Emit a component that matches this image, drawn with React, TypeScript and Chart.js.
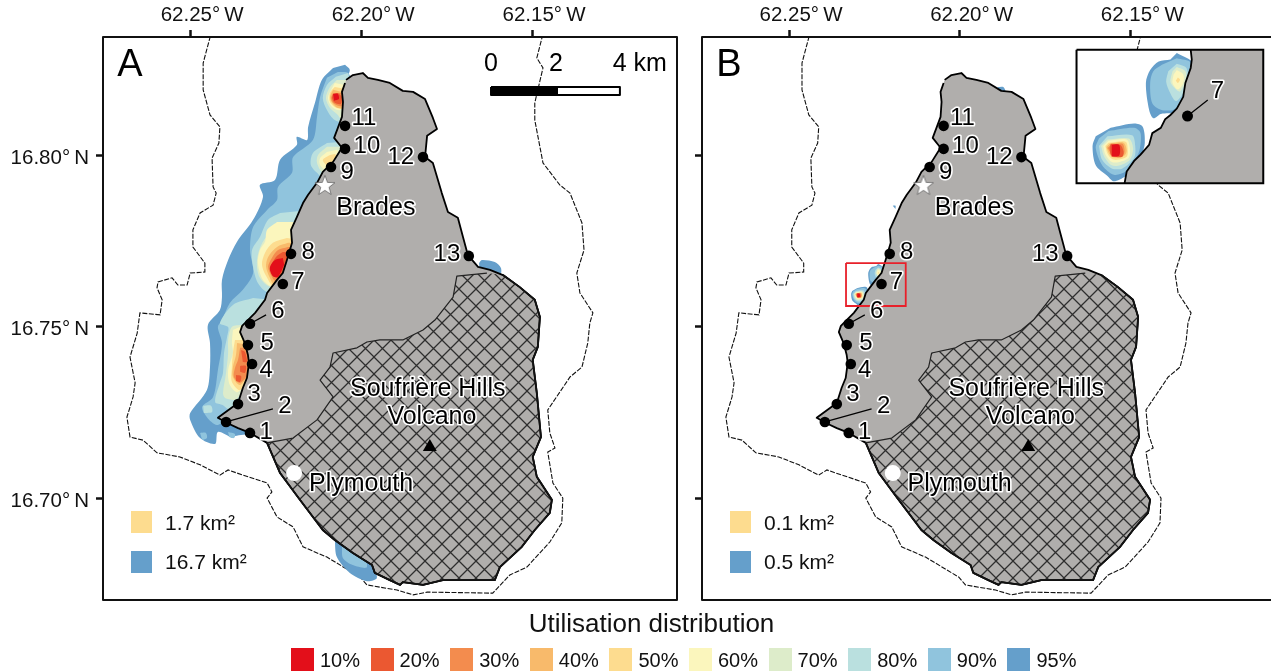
import React, { useEffect, useRef } from "react";
import { Chart, registerables } from "chart.js";
Chart.register(...registerables);

type P = number[];
const FONT = '"Liberation Sans", Arial, sans-serif';

// ---- map frame and ticks (degrees W / N) ----
const lonTicks = [62.25, 62.2, 62.15];
const latTicks = [16.8, 16.75, 16.7];
const lonRange = [62.1076, 62.2755];
const latRange = [16.6703, 16.8344];
const insetLonRange = [62.2147, 62.2684];
const insetLatRange = [16.717, 16.7697];

// ---- coastline ----
const coastNorth: P[] = [[62.2044,16.8219],[62.2024,16.8233],[62.1995,16.8239],[62.198,16.8225],[62.1951,16.8219],[62.1916,16.821],[62.1878,16.8187],[62.1848,16.8184],[62.1813,16.8163],[62.179,16.8108],[62.1778,16.8076],[62.1807,16.8056],[62.1813,16.7994],[62.179,16.7977],[62.1764,16.7889],[62.1746,16.7834],[62.1717,16.7817],[62.1702,16.7761],[62.1688,16.7709],[62.1658,16.7674],[62.1623,16.7665]];
const coastExclusion: P[] = [[62.1585,16.765],[62.1536,16.7615],[62.1492,16.7578],[62.1477,16.7528],[62.1483,16.7441],[62.1498,16.7403],[62.1486,16.7306],[62.1474,16.7178],[62.1498,16.712],[62.1486,16.7062],[62.1442,16.6995],[62.1448,16.6957],[62.1492,16.6907],[62.153,16.6858],[62.1594,16.6799],[62.1609,16.6761],[62.1682,16.6761],[62.1761,16.6761],[62.1819,16.6747],[62.1878,16.6755],[62.1886,16.6747],[62.1916,16.6761],[62.196,16.6782],[62.1968,16.6805],[62.2024,16.684],[62.2077,16.6878],[62.2112,16.6907],[62.2179,16.6995],[62.2237,16.7073],[62.2275,16.7161]];
const coastWest: P[] = [[62.2325,16.719],[62.236,16.7204],[62.2392,16.7219],[62.2419,16.7234],[62.236,16.7277],[62.2346,16.7321],[62.2334,16.735],[62.2328,16.7394],[62.2331,16.7417],[62.234,16.7452],[62.2354,16.7484],[62.2348,16.7502],[62.231,16.754],[62.2281,16.7578],[62.2275,16.7598],[62.2246,16.7636],[62.2229,16.7656],[62.2217,16.7694],[62.2202,16.7744],[62.2205,16.7782],[62.2188,16.7819],[62.217,16.786],[62.2155,16.7884],[62.2129,16.7919],[62.2112,16.7951],[62.2082,16.798],[62.2056,16.8021],[62.2079,16.805],[62.2068,16.8079],[62.2056,16.8111],[62.2053,16.8155],[62.2056,16.8184],[62.2047,16.821]];
const exclusionInner: P[] = [[62.2199,16.7175],[62.2129,16.7228],[62.2082,16.7295],[62.212,16.7344],[62.2091,16.7382],[62.2082,16.7423],[62.2012,16.7438],[62.1983,16.7455],[62.1945,16.7461],[62.1878,16.7461],[62.1819,16.749],[62.1784,16.7519],[62.1731,16.7586],[62.172,16.7647],[62.1632,16.7656]];
const boundary: P[] = [[62.2436,16.8365],[62.2462,16.8268],[62.2462,16.819],[62.2442,16.8117],[62.2413,16.8082],[62.2416,16.8035],[62.2436,16.7991],[62.2433,16.7907],[62.2424,16.7889],[62.2433,16.7854],[62.2471,16.7831],[62.2492,16.7782],[62.2492,16.7732],[62.2457,16.7685],[62.2457,16.7659],[62.25,16.7656],[62.2509,16.7621],[62.2536,16.7621],[62.2553,16.7642],[62.2594,16.763],[62.2597,16.7613],[62.2582,16.7578],[62.2588,16.7534],[62.2647,16.754],[62.2655,16.7481],[62.2676,16.7411],[62.2661,16.7336],[62.2667,16.7295],[62.2685,16.7236],[62.2676,16.7178],[62.2638,16.7169],[62.2597,16.7132],[62.253,16.712],[62.2471,16.7097],[62.2413,16.7067],[62.2389,16.7082],[62.2363,16.7073],[62.2275,16.7044],[62.2261,16.7018],[62.2275,16.7],[62.2246,16.6945],[62.2199,16.6916],[62.217,16.6858],[62.21,16.6828],[62.2003,16.677],[62.1983,16.6747],[62.1895,16.6732],[62.1848,16.6718],[62.1807,16.6726],[62.1615,16.6723],[62.1565,16.6776],[62.1515,16.6799],[62.1448,16.6872],[62.1413,16.6928],[62.141,16.7],[62.1439,16.7044],[62.1454,16.7134],[62.1433,16.7146],[62.1448,16.719],[62.1454,16.7257],[62.1389,16.7353],[62.1354,16.7382],[62.1337,16.7452],[62.1331,16.751],[62.1322,16.754],[62.136,16.7598],[62.1369,16.7656],[62.1348,16.7723],[62.1354,16.7802],[62.1389,16.7889],[62.1419,16.7913],[62.1468,16.7977],[62.1492,16.8102],[62.1492,16.8152],[62.1468,16.8254],[62.1486,16.8283],[62.1465,16.8365]];

// ---- panel A utilisation contours ----
const a95: P[][] = [
  [[62.2047,16.8263],[62.2033,16.8248],[62.2044,16.8213],[62.2018,16.819],[62.2027,16.8073],[62.2062,16.7956],[62.2179,16.7723],[62.2296,16.749],[62.231,16.7286],[62.2325,16.7193],[62.2369,16.7181],[62.2375,16.7175],[62.2419,16.7193],[62.2427,16.7158],[62.2471,16.7175],[62.25,16.7228],[62.25,16.7248],[62.2451,16.7315],[62.2442,16.7382],[62.2442,16.7452],[62.2448,16.7505],[62.2413,16.7548],[62.2407,16.7586],[62.2407,16.7636],[62.2389,16.7694],[62.2363,16.7747],[62.2316,16.7811],[62.2287,16.7878],[62.2296,16.7913],[62.2252,16.7927],[62.2237,16.7986],[62.2188,16.8029],[62.2188,16.8053],[62.2158,16.8044],[62.2155,16.8082],[62.2135,16.8152],[62.2115,16.8219],[62.2082,16.8254]],
  [[62.2077,16.6878],[62.2071,16.6828],[62.2033,16.6782],[62.1983,16.6758],[62.1954,16.6767],[62.1968,16.6805],[62.2033,16.6863],[62.2062,16.6893]],
  [[62.1655,16.7685],[62.1647,16.7694],[62.1609,16.7688],[62.1591,16.7671],[62.1594,16.765],[62.1653,16.7659]],
];
const a90: P[][] = [
  [[62.2068,16.8242],[62.2038,16.8239],[62.2018,16.819],[62.2027,16.8073],[62.2062,16.7956],[62.2179,16.7723],[62.2296,16.749],[62.231,16.7286],[62.2398,16.7228],[62.2422,16.7213],[62.2451,16.7236],[62.2465,16.7266],[62.2433,16.7295],[62.2419,16.7373],[62.2407,16.7452],[62.2419,16.7499],[62.2407,16.7519],[62.2384,16.7569],[62.2346,16.7607],[62.2316,16.7656],[62.2325,16.7723],[62.2316,16.779],[62.2275,16.784],[62.2246,16.7869],[62.2243,16.7907],[62.2202,16.7948],[62.2199,16.7994],[62.2141,16.8044],[62.2129,16.8111],[62.212,16.8169],[62.21,16.8225]],
  [[62.2471,16.719],[62.2454,16.719],[62.2451,16.7175],[62.2465,16.7169]],
  [[62.2389,16.7193],[62.2369,16.7187],[62.2372,16.7175],[62.2386,16.7178]],
  [[62.2056,16.6858],[62.2053,16.6825],[62.2024,16.6805],[62.1983,16.6799],[62.2003,16.6863],[62.2047,16.6893]],
];
const a80: P[][] = [
  [[62.2074,16.8228],[62.21,16.8204],[62.2112,16.8166],[62.21,16.8131],[62.2077,16.8102],[62.2033,16.8093],[62.2024,16.8169],[62.2038,16.8239]],
  [[62.21,16.8035],[62.2141,16.8006],[62.2147,16.7971],[62.2129,16.7948],[62.2112,16.7936],[62.2047,16.7994],[62.2062,16.8038]],
  [[62.2237,16.7831],[62.2272,16.7811],[62.2296,16.7761],[62.2319,16.7723],[62.2316,16.7674],[62.2302,16.7627],[62.2272,16.7601],[62.2179,16.7636],[62.215,16.784]],
  [[62.2316,16.7583],[62.2375,16.7563],[62.2413,16.751],[62.2389,16.7499],[62.2392,16.747],[62.2401,16.7423],[62.2404,16.7365],[62.2413,16.7336],[62.2427,16.728],[62.2404,16.7271],[62.2384,16.7257],[62.2325,16.7257],[62.2281,16.7461],[62.2267,16.7578]],
  [[62.2462,16.7269],[62.2439,16.7269],[62.2436,16.7251],[62.246,16.7248]],
];
const a70: P[][] = [
  [[62.2071,16.8219],[62.2091,16.8198],[62.2103,16.8166],[62.2091,16.8137],[62.2068,16.8117],[62.2047,16.8088],[62.2033,16.8161],[62.2033,16.8219]],
  [[62.21,16.8024],[62.2126,16.8],[62.2129,16.7977],[62.2112,16.7951],[62.2053,16.7986],[62.2062,16.8024]],
  [[62.2237,16.7782],[62.2272,16.7767],[62.2296,16.7729],[62.2305,16.7685],[62.2296,16.7642],[62.2261,16.7615],[62.2179,16.7665],[62.2179,16.7782]],
  [[62.2346,16.7505],[62.2378,16.7499],[62.2389,16.7461],[62.2389,16.7423],[62.2395,16.7365],[62.2404,16.7306],[62.2398,16.7292],[62.2363,16.7289],[62.2325,16.7373],[62.2319,16.749]],
];
const a60: P[][] = [
  [[62.2077,16.821],[62.2085,16.8195],[62.2097,16.8166],[62.2085,16.814],[62.2062,16.8131],[62.2033,16.8161],[62.2047,16.8204]],
  [[62.21,16.8009],[62.212,16.7991],[62.212,16.7971],[62.21,16.7956],[62.2053,16.7991],[62.2071,16.8015]],
  [[62.2246,16.7805],[62.2275,16.7782],[62.2281,16.7747],[62.2296,16.7723],[62.2302,16.7685],[62.2287,16.7636],[62.2252,16.7615],[62.2179,16.7665],[62.2179,16.7805]],
  [[62.2375,16.749],[62.2378,16.7452],[62.2375,16.7423],[62.2389,16.7373],[62.2384,16.733],[62.236,16.7309],[62.2325,16.7373],[62.2319,16.7476],[62.234,16.7505]],
];
const a50: P[][] = [
  [[62.2077,16.8198],[62.2091,16.8181],[62.2091,16.8155],[62.2071,16.8137],[62.2033,16.814],[62.2033,16.819]],
  [[62.2091,16.8],[62.2112,16.7986],[62.21,16.7971],[62.2062,16.7991],[62.2077,16.8003]],
  [[62.2217,16.7758],[62.2258,16.7744],[62.2281,16.7715],[62.229,16.768],[62.2275,16.7642],[62.2252,16.7615],[62.215,16.7665],[62.2179,16.7752]],
  [[62.2369,16.7461],[62.2375,16.7423],[62.2378,16.7382],[62.2378,16.7339],[62.2354,16.7315],[62.2325,16.7373],[62.2325,16.7461]],
];
const a40: P[][] = [
  [[62.2082,16.819],[62.2091,16.8169],[62.2085,16.8152],[62.2068,16.8137],[62.2033,16.814],[62.2033,16.8184],[62.2056,16.8184]],
  [[62.2214,16.7744],[62.2246,16.7732],[62.2272,16.7703],[62.2278,16.7674],[62.2267,16.7642],[62.2252,16.7621],[62.215,16.7665],[62.2179,16.7744]],
  [[62.2363,16.7452],[62.2366,16.7417],[62.2375,16.7382],[62.2375,16.7353],[62.2354,16.733],[62.2325,16.7373],[62.2325,16.7446]],
];
const a30: P[][] = [
  [[62.2082,16.8181],[62.2088,16.8166],[62.2082,16.8152],[62.2065,16.8143],[62.2033,16.8146],[62.2033,16.8181],[62.2062,16.8181]],
  [[62.2214,16.7732],[62.2243,16.7723],[62.2261,16.77],[62.2272,16.7674],[62.2261,16.7645],[62.2246,16.763],[62.215,16.768],[62.2179,16.7732]],
  [[62.2354,16.7438],[62.236,16.7403],[62.2369,16.7379],[62.2372,16.7353],[62.2354,16.7336],[62.2325,16.7373],[62.2325,16.7438]],
];
const a20: P[][] = [
  [[62.2082,16.8178],[62.2085,16.8166],[62.2077,16.8152],[62.2059,16.8149],[62.2056,16.8169],[62.2068,16.8181]],
  [[62.2229,16.7717],[62.2249,16.7703],[62.2264,16.7674],[62.2258,16.765],[62.2243,16.7642],[62.2179,16.7688],[62.2193,16.7717]],
  [[62.2351,16.7432],[62.234,16.7426],[62.2334,16.7397],[62.2346,16.7397]],
  [[62.2354,16.7385],[62.2337,16.7385],[62.234,16.7365],[62.2354,16.7368]],
  [[62.2366,16.7359],[62.2351,16.7356],[62.2354,16.7339],[62.2366,16.7341]],
];
const a10: P[][] = [
  [[62.2082,16.8178],[62.2068,16.8178],[62.2065,16.8163],[62.2079,16.8158]],
  [[62.2229,16.77],[62.2252,16.7694],[62.2267,16.7671],[62.2258,16.7647],[62.2243,16.7645],[62.2225,16.768]],
];

// ---- panel B utilisation contours ----
const b95: P[][] = [
  [[62.2239,16.7682],[62.2225,16.7674],[62.2223,16.7663],[62.2233,16.7641],[62.224,16.7627],[62.2254,16.7625],[62.2261,16.7621],[62.2265,16.7629],[62.2268,16.7654],[62.2264,16.7666],[62.2256,16.7674],[62.2245,16.7676]],
  [[62.2301,16.7612],[62.2279,16.7616],[62.2271,16.7613],[62.2269,16.7598],[62.2272,16.7587],[62.2279,16.7577],[62.2287,16.7567],[62.2298,16.7562],[62.2304,16.7567],[62.2315,16.7577],[62.2318,16.7595],[62.2315,16.7604]],
  [[62.1889,16.8198],[62.1872,16.8198],[62.1866,16.8184],[62.1886,16.8184]],
  [[62.2196,16.7852],[62.2188,16.7852],[62.2188,16.7843]],
];
const b90: P[][] = [
  [[62.2239,16.7677],[62.2226,16.7673],[62.2226,16.7657],[62.2234,16.7638],[62.2242,16.7629],[62.2254,16.7629],[62.2262,16.7635],[62.2264,16.7654],[62.2261,16.7665],[62.2253,16.7671]],
  [[62.2303,16.7609],[62.2279,16.7612],[62.2273,16.7607],[62.2274,16.7591],[62.2279,16.7581],[62.2287,16.7571],[62.2298,16.7568],[62.2309,16.7577],[62.2315,16.7593],[62.2312,16.7602]],
];
const b80: P[][] = [
  [[62.2239,16.7672],[62.223,16.7668],[62.2229,16.7654],[62.2234,16.7643],[62.224,16.7637],[62.2245,16.7644],[62.2249,16.7655],[62.2247,16.7665]],
  [[62.2304,16.7604],[62.2281,16.7605],[62.2278,16.7595],[62.2279,16.7584],[62.229,16.7574],[62.23,16.7574],[62.2309,16.7582],[62.2312,16.7595]],
];
const b70: P[][] = [
  [[62.2239,16.7669],[62.2231,16.7665],[62.2231,16.7655],[62.2236,16.7646],[62.224,16.7648],[62.2245,16.7655],[62.2243,16.7665]],
  [[62.2304,16.7601],[62.2284,16.7602],[62.228,16.7593],[62.2283,16.7582],[62.2292,16.7577],[62.23,16.7577],[62.2307,16.7585],[62.231,16.7595]],
];
const b60: P[][] = [
  [[62.2239,16.7666],[62.2233,16.7662],[62.2233,16.7654],[62.2238,16.7648],[62.2243,16.7654],[62.2242,16.7662]],
  [[62.2303,16.76],[62.2286,16.7601],[62.2283,16.7593],[62.2284,16.7584],[62.2293,16.758],[62.23,16.758],[62.2306,16.7587],[62.2308,16.7595]],
];
const b50: P[][] = [
  [[62.2238,16.7659],[62.2236,16.7657],[62.2238,16.7654],[62.224,16.7656]],
  [[62.2303,16.7598],[62.2287,16.7599],[62.2285,16.7591],[62.2286,16.7585],[62.2295,16.7582],[62.23,16.7583],[62.2304,16.7588],[62.2306,16.7595]],
];
const b40: P[][] = [[[62.2302,16.7597],[62.2289,16.7598],[62.2286,16.7591],[62.2288,16.7586],[62.2295,16.7584],[62.23,16.7585],[62.2303,16.7589],[62.2305,16.7594]]];
const b30: P[][] = [[[62.2301,16.7596],[62.229,16.7597],[62.2288,16.7591],[62.2289,16.7587],[62.2296,16.7585],[62.23,16.7586],[62.2302,16.759],[62.2304,16.7593]]];
const b20: P[][] = [[[62.2301,16.7597],[62.2292,16.7596],[62.2289,16.759],[62.229,16.7585],[62.2298,16.7585],[62.2301,16.7587],[62.2302,16.7593]]];
const b10: P[][] = [[[62.23,16.7596],[62.2293,16.7596],[62.2293,16.7586],[62.23,16.7585]]];

// ---- inset ----
const insetBox: P[] = [[62.2333,16.7685],[62.2158,16.7685],[62.2158,16.756],[62.2333,16.756],[62.2333,16.7685]];
const insetCoast: P[] = [[62.2226,16.7685],[62.2225,16.7676],[62.2226,16.7668],[62.2231,16.7654],[62.2233,16.7641],[62.2239,16.763],[62.2245,16.7624],[62.225,16.762],[62.2254,16.7612],[62.2262,16.7607],[62.2265,16.7596],[62.2273,16.7587],[62.2279,16.7581],[62.2286,16.7571],[62.2288,16.756]];
const insetLandCorners: P[] = [[62.2158,16.756],[62.2158,16.7685]];
const insetLeader: P[] = [[62.2229,16.7623],[62.221,16.7638]];
const insetSite: P[] = [[62.2229,16.7623]];

// ---- sites and places ----
const siteNames = ["1","2","3","4","5","6","7","8","9","10","11","12","13"];
const sites: P[] = [[62.2325,16.719],[62.2395,16.7222],[62.236,16.7274],[62.2319,16.7391],[62.2331,16.7446],[62.2325,16.7508],[62.2229,16.7624],[62.2205,16.7712],[62.2088,16.7965],[62.2047,16.8018],[62.2047,16.8085],[62.1819,16.7994],[62.1685,16.7706]];
const siteLabelAt: P[] = [[62.2278,16.7193],[62.2223,16.7266],[62.2313,16.7301],[62.2278,16.7373],[62.2275,16.7452],[62.2243,16.7543],[62.2185,16.763],[62.2155,16.7717],[62.2041,16.7948],[62.1983,16.8024],[62.1992,16.8108],[62.1884,16.7994],[62.1749,16.7709]];
const leader2: P[] = [[62.2395,16.7222],[62.2258,16.726]];
const leader6: P[] = [[62.2325,16.7508],[62.2278,16.7534]];
const bradesStar: P[] = [[62.2106,16.791]];
const plymouthDot: P[] = [[62.2196,16.7073]];
const volcanoMark: P[] = [[62.1799,16.7149]];
const placeNames = ["Brades", "Soufrière Hills", "Volcano", "Plymouth"];
const placeAt: P[] = [[62.1957,16.7846],[62.1805,16.7318],[62.1793,16.7236],[62.2,16.7041]];

// ---- scale bar ----
const barBlack: P[] = [[62.162,16.8198],[62.1427,16.8198],[62.1427,16.8175],[62.162,16.8175],[62.162,16.8198]];
const barWhite: P[] = [[62.1427,16.8198],[62.1243,16.8198],[62.1243,16.8175],[62.1427,16.8175],[62.1427,16.8198]];
const barLabels = ["0", "2", "4 km"];
const barLabelAt: P[] = [[62.162,16.8265],[62.143,16.8265],[62.1185,16.8265]];

// ---- legend ----
const levelNames = ["10%","20%","30%","40%","50%","60%","70%","80%","90%","95%"];
const levelColors = ["#E30F1A","#EB5831","#F38C4E","#F8BA6B","#FDDC8F","#FBF6BD","#DDECCA","#BAE0DF","#90C4DD","#659FCB"];
const areaA = ["1.7 km²", "16.7 km²"];
const areaB = ["0.1 km²", "0.5 km²"];
const LAND = "#B0AEAC";

const pts = (a: P[]) => a.map(([x, y]) => ({ x, y }));

function shape(a: P[], fill: string | CanvasPattern, border = "transparent", width = 0, axes = false, extra: any = {}) {
  return {
    data: pts(a), backgroundColor: fill, borderColor: border, borderWidth: width || 1,
    fill: "shape", pointRadius: 0, tension: 0, borderJoinStyle: "round",
    ...(axes ? { xAxisID: "xi", yAxisID: "yi" } : {}), ...extra,
  };
}
function path(a: P[], color: string, width: number, axes = false, extra: any = {}) {
  return {
    data: pts(a), borderColor: color, borderWidth: width, fill: false, pointRadius: 0, tension: 0,
    ...(axes ? { xAxisID: "xi", yAxisID: "yi" } : {}), ...extra,
  };
}
function marks(a: P[], style: any, radius: number, color: string, axes = false, extra: any = {}) {
  return {
    data: pts(a), showLine: false, pointStyle: style, pointRadius: radius,
    pointBackgroundColor: color, pointBorderColor: color, pointBorderWidth: 0, fill: false,
    ...(axes ? { xAxisID: "xi", yAxisID: "yi" } : {}), ...extra,
  };
}
function contours(levels: P[][][], axes = false) {
  const out: any[] = [];
  // outermost (95 %) first
  for (let i = levels.length - 1; i >= 0; i--) {
    for (const poly of levels[i]) {
      out.push(shape(poly, levelColors[i], "transparent", 0, axes, { tension: 0.3 }));
    }
  }
  return out;
}

function makeHatch(): CanvasPattern {
  const s = 17;
  const c = document.createElement("canvas");
  c.width = s; c.height = s;
  const g = c.getContext("2d")!;
  g.strokeStyle = "#2e2e2e";
  g.lineWidth = 1.25;
  g.beginPath();
  g.moveTo(0, 0); g.lineTo(s, s);
  g.moveTo(s, 0); g.lineTo(0, s);
  g.stroke();
  return g.createPattern(c, "repeat")!;
}
function makeStar(): HTMLCanvasElement {
  const s = 24;
  const c = document.createElement("canvas");
  c.width = s; c.height = s;
  const g = c.getContext("2d")!;
  g.beginPath();
  for (let i = 0; i < 10; i++) {
    const r = i % 2 ? 4.4 : 10.5;
    const a = -Math.PI / 2 + (i * Math.PI) / 5;
    g.lineTo(s / 2 + r * Math.cos(a), s / 2 + r * Math.sin(a));
  }
  g.closePath();
  g.fillStyle = "#fff";
  g.fill();
  g.strokeStyle = "#555";
  g.lineWidth = 0.7;
  g.stroke();
  return c;
}

type Lab = { t: string; p: P; size: number; halo?: boolean; inset?: boolean };

function panelPlugin(letter: string, areas: string[], labels: Lab[]) {
  return {
    id: "panel" + letter,
    afterDatasetsDraw(chart: any) {
      const { ctx, chartArea: a, scales } = chart;
      ctx.save();
      ctx.textBaseline = "middle";
      ctx.textAlign = "center";
      ctx.lineJoin = "round";
      for (const l of labels) {
        const x = scales[l.inset ? "xi" : "x"].getPixelForValue(l.p[0]);
        const y = scales[l.inset ? "yi" : "y"].getPixelForValue(l.p[1]);
        ctx.font = `${l.size}px ${FONT}`;
        if (l.halo !== false) {
          ctx.strokeStyle = "#fff";
          ctx.lineWidth = 3.2;
          ctx.strokeText(l.t, x, y);
        }
        ctx.fillStyle = "#000";
        ctx.fillText(l.t, x, y);
      }
      // panel letter
      ctx.font = `38px ${FONT}`;
      ctx.fillStyle = "#000";
      ctx.fillText(letter, a.left + 27, a.top + 29);
      // area key
      ctx.textAlign = "left";
      ctx.font = `21px ${FONT}`;
      [0, 1].forEach((i) => {
        ctx.fillStyle = i === 0 ? levelColors[4] : levelColors[9];
        ctx.fillRect(a.left + 28, a.top + 474 + i * 40, 21, 22);
        ctx.fillStyle = "#111";
        ctx.fillText(areas[i], a.left + 62, a.top + 487 + i * 39.5);
      });
      // frame
      ctx.strokeStyle = "#111";
      ctx.lineWidth = 2;
      ctx.strokeRect(a.left, a.top, a.right - a.left, a.bottom - a.top);
      ctx.restore();
    },
  };
}

function scalesFor(showLatLabels: boolean, yWidth: number, inset: boolean) {
  const s: any = {
    x: {
      type: "linear", position: "top", reverse: true, min: lonRange[0], max: lonRange[1],
      afterBuildTicks: (ax: any) => { ax.ticks = lonTicks.map((value) => ({ value })); },
      afterFit: (ax: any) => { ax.height = 37; },
      grid: { drawOnChartArea: false, tickLength: 7, tickWidth: 2.5, tickColor: "#111" },
      border: { display: false },
      ticks: {
        autoSkip: false, maxRotation: 0, minRotation: 0, padding: 2, color: "#111", labelOffset: 12,
        font: { family: FONT, size: 20.5 },
        callback: (v: number) => `${v.toFixed(2)}°\u2009W`,
      },
    },
    y: {
      type: "linear", position: "left", min: latRange[0], max: latRange[1],
      afterBuildTicks: (ax: any) => { ax.ticks = latTicks.map((value) => ({ value })); },
      afterFit: (ax: any) => { ax.width = yWidth; },
      grid: { drawOnChartArea: false, tickLength: 7, tickWidth: 2.5, tickColor: "#111" },
      border: { display: false },
      ticks: {
        autoSkip: false, padding: 7, color: "#111", labelOffset: 3,
        font: { family: FONT, size: 20.5 },
        callback: (v: number) => (showLatLabels ? `${v.toFixed(2)}°\u2009N` : ""),
      },
    },
  };
  if (inset) {
    s.xi = { type: "linear", display: false, reverse: true, min: insetLonRange[0], max: insetLonRange[1] };
    s.yi = { type: "linear", display: false, min: insetLatRange[0], max: insetLatRange[1] };
  }
  return s;
}

function paintOrder(list: any[]) {
  return list.map((d, i) => ({ ...d, order: list.length - i }));
}

function baseLayers(hatch: CanvasPattern, star: HTMLCanvasElement) {
  const land = [...coastNorth, ...coastExclusion, ...coastWest];
  const zone = [...coastExclusion, ...exclusionInner];
  return [
    shape(land, LAND, "#000", 1.8),
    shape(zone, hatch, "#222", 1.2),
    path([...coastExclusion], "#111", 1.8),
    path(leader2, "#000", 1.2),
    path(leader6, "#000", 1.2),
    marks(sites, "circle", 5.3, "#000"),
    marks(bradesStar, star, 12, "#fff"),
    marks(plymouthDot, "circle", 8, "#fff"),
    marks(volcanoMark, "triangle", 8, "#000"),
  ];
}

const baseLabels: Lab[] = [
  ...siteNames.map((t, i) => ({ t, p: siteLabelAt[i], size: 24 })),
  ...placeNames.map((t, i) => ({ t, p: placeAt[i], size: 25 })),
];

export default function App() {
  const refA = useRef<HTMLCanvasElement>(null);
  const refB = useRef<HTMLCanvasElement>(null);
  useEffect(() => {
    document.body.style.margin = "0";
    document.body.style.overflow = "hidden";
    const hatch = makeHatch();
    const star = makeStar();
    const common = {
      animation: false, responsive: false, events: [],
      plugins: { legend: { display: false }, tooltip: { enabled: false }, title: { display: false } },
    };
    const dsA = paintOrder([
      path(boundary, "#111", 1.1, false, { borderDash: [5, 1.5] }),
      ...contours([a10, a20, a30, a40, a50, a60, a70, a80, a90, a95]),
      ...baseLayers(hatch, star),
      shape(barBlack, "#000", "#000", 2),
      shape(barWhite, "#fff", "#000", 2),
    ]);
    const chartA = new Chart(refA.current!, {
      type: "line",
      data: { datasets: dsA as any },
      options: {
        ...common,
        layout: { padding: { left: 0, right: 13, top: 0, bottom: 71 } },
        scales: scalesFor(true, 103, false),
      } as any,
      plugins: [panelPlugin("A", areaA, [
        ...baseLabels,
        ...barLabels.map((t, i) => ({ t, p: barLabelAt[i], size: 25, halo: false })),
      ])],
    });
    const bLevels = [b10, b20, b30, b40, b50, b60, b70, b80, b90, b95];
    const dsB = paintOrder([
      path(boundary, "#111", 1.1, false, { borderDash: [5, 1.5] }),
      ...contours(bLevels),
      ...baseLayers(hatch, star),
      path(insetBox, "#E8202A", 1.8),
      shape(insetBox, "#fff", "transparent", 0, true),
      ...contours(bLevels.map((l) => l.slice(0, 2)), true),
      shape([...insetCoast, ...insetLandCorners], LAND, "transparent", 0, true),
      path(insetCoast, "#000", 1.8, true),
      path(insetLeader, "#000", 1.2, true),
      marks(insetSite, "circle", 5.5, "#000", true),
      path(insetBox, "#000", 2, true),
    ]);
    const chartB = new Chart(refB.current!, {
      type: "line",
      data: { datasets: dsB as any },
      options: {
        ...common,
        layout: { padding: { left: 0, right: 15, top: 0, bottom: 71 } },
        scales: scalesFor(false, 11, true),
      } as any,
      plugins: [panelPlugin("B", areaB, [
        ...baseLabels,
        { t: "7", p: [62.2201, 16.7646], size: 24, inset: true },
      ])],
    });
    return () => { chartA.destroy(); chartB.destroy(); };
  }, []);

  return (
    <div style={{ position: "fixed", left: 0, top: 0, width: 1271, height: 671, overflow: "hidden", background: "#fff", fontFamily: FONT, color: "#111" }}>
      <canvas ref={refA} width={690} height={671} style={{ position: "absolute", left: 0, top: 0 }} />
      <canvas ref={refB} width={600} height={671} style={{ position: "absolute", left: 690, top: 0 }} />
      <div style={{ position: "absolute", left: 0, width: 1303, top: 608, textAlign: "center", fontSize: 26, lineHeight: "30px" }}>Utilisation distribution</div>
      {levelNames.map((n, i) => (
        <React.Fragment key={n}>
          <div style={{ position: "absolute", left: 291 + i * 79.6, top: 648, width: 23, height: 23, background: levelColors[i] }} />
          <div style={{ position: "absolute", left: 320 + i * 79.6, top: 648, fontSize: 20, lineHeight: "24px" }}>{n}</div>
        </React.Fragment>
      ))}
    </div>
  );
}
